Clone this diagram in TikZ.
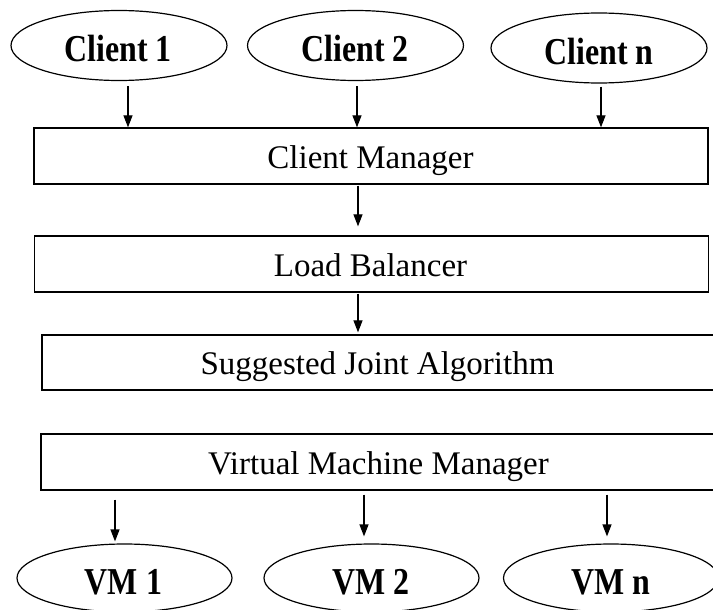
\documentclass[tikz,border=0pt]{standalone}
\usepackage{fontspec}
\setmainfont{Liberation Serif}
\newfontfamily\condfont[FakeStretch=0.84]{Liberation Serif}
\usetikzlibrary{shapes.geometric,arrows.meta}

\tikzset{
  endpoint/.style={draw, ellipse, line width=1.2pt, inner sep=0pt,
    minimum width=216pt, minimum height=70pt},
  endlabel/.style={font=\condfont\bfseries\fontsize{38}{44}\selectfont},
  stage/.style={draw, rectangle, line width=1.3pt, inner sep=0pt,
    minimum width=674pt, minimum height=56pt},
  stagelabel/.style={anchor=base, inner sep=0pt, font=\fontsize{33}{40}\selectfont},
  flow/.style={line width=1.2pt, -{Triangle[length=12pt,width=9pt]}}
}

\begin{document}
\begin{tikzpicture}[x=1pt,y=-1pt]
\useasboundingbox (0,0) rectangle (713,610);

% clients
\node[endpoint] (c1) at (119,45.5) {};
\node[endpoint] (c2) at (355.5,45.5) {};
\node[endpoint] (cn) at (599,48) {};
\node[endlabel] (t1) at (118,49) {Client 1};
\node[endlabel] (t2) at (355,49) {Client 2};
\node[endlabel] (tn) at (599,51.5) {Client n};

% processing stages
\node[stage] (cm) at (371,156) {};
\node[stage] (lb) at (371.5,264) {};
\node[stage, minimum width=672pt, minimum height=55pt] (sj) at (378,362.5) {};
\node[stage, minimum width=673pt] (vmm) at (377.5,462) {};
\node[stagelabel] (tcm) at (370.5,168) {Client Manager};
\node[stagelabel] (tlb) at (370.5,276) {Load Balancer};
\node[stagelabel] (tsj) at (377.5,374) {Suggested Joint Algorithm};
\node[stagelabel] (tvm) at (378.5,474) {Virtual Machine Manager};

% virtual machines
\node[endpoint, minimum width=215pt, minimum height=68pt] (v1) at (124.5,578) {};
\node[endpoint, minimum width=215pt, minimum height=68pt] (v2) at (371.5,578) {};
\node[endpoint, minimum width=215pt, minimum height=68pt] (vn) at (611,578) {};
\node[endlabel] (tv1) at (123.5,582) {VM 1};
\node[endlabel] (tv2) at (371,582) {VM 2};
\node[endlabel] (tvn) at (611,582) {VM n};

% arrows: clients to client manager
\draw[flow] ([xshift=9pt,yshift=-5pt]c1.south) -- ([xshift=9pt]c1.south |- cm.north);
\draw[flow] ([xshift=1.5pt,yshift=-5pt]c2.south) -- ([xshift=1.5pt]c2.south |- cm.north);
\draw[flow] ([xshift=2pt,yshift=-3pt]cn.south) -- ([xshift=2pt]cn.south |- cm.north);

% arrows between stages
\draw[flow] ([xshift=-13pt,yshift=-1pt]cm.south) -- ([xshift=-13pt,yshift=9pt]cm.south |- lb.north);
\draw[flow] ([xshift=-13.5pt,yshift=-1pt]lb.south) -- ([xshift=-13.5pt,yshift=2pt]lb.south |- sj.north);

% arrows: virtual machine manager to virtual machines
\draw[flow] ([xshift=-9.5pt,yshift=-9pt]v1.north |- vmm.south) -- ([xshift=-9.5pt,yshift=2pt]v1.north);
\draw[flow] ([xshift=-7.5pt,yshift=-4pt]v2.north |- vmm.south) -- ([xshift=-7.5pt,yshift=7pt]v2.north);
\draw[flow] ([xshift=-4pt,yshift=-4pt]vn.north |- vmm.south) -- ([xshift=-4pt,yshift=7pt]vn.north);
\end{tikzpicture}
\end{document}
